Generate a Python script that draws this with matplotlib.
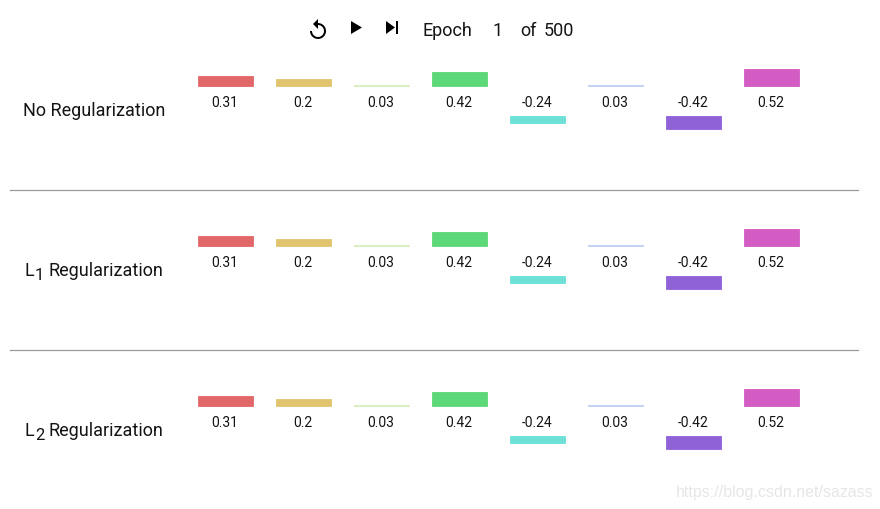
import matplotlib
matplotlib.use("Agg")
import matplotlib.pyplot as plt
from matplotlib.patches import Wedge, Polygon, Rectangle
from matplotlib.lines import Line2D

plt.rcParams['font.family'] = ['Roboto', 'DejaVu Sans']

# ---- data ----
row_prefix = ["", "L", "L"]
row_sub = ["", "1", "2"]
row_main = ["No Regularization", "Regularization", "Regularization"]
no_reg = [0.31, 0.2, 0.03, 0.42, -0.24, 0.03, -0.42, 0.52]
l1_reg = [0.31, 0.2, 0.03, 0.42, -0.24, 0.03, -0.42, 0.52]
l2_reg = [0.31, 0.2, 0.03, 0.42, -0.24, 0.03, -0.42, 0.52]
bar_colors = ["#e06868", "#e2c46e", "#d6efbe", "#5dd879", "#6de0d7", "#bccff2", "#9062d8", "#d35cc4"]
epoch = 1
total_epochs = 500

W, H = 880, 510
fig = plt.figure(figsize=(W / 100, H / 100), dpi=100)
fig.patch.set_facecolor("white")

over = fig.add_axes([0, 0, 1, 1])
over.set_xlim(0, W)
over.set_ylim(H, 0)
over.axis("off")

txt_color = "#141414"
px_per_unit = 32.0
gap = 30 / px_per_unit

rows = [no_reg, l1_reg, l2_reg]
for r, vals in enumerate(rows):
    B = 86.5 + 160 * r
    ax = fig.add_axes([186 / W, (H - (B + 60)) / H, 624 / W, 100 / H])
    ax.set_xlim(-0.5, len(vals) - 0.5)
    ax.set_ylim(-60 / px_per_unit, 40 / px_per_unit)
    ax.axis("off")
    xs = list(range(len(vals)))
    bottoms = [0 if v >= 0 else -gap for v in vals]
    ax.bar(xs, vals, bottom=bottoms, width=55 / 78, color=bar_colors,
           edgecolor=bar_colors, linewidth=0.6)
    for x, v in zip(xs, vals):
        ax.text(x, -20.5 / px_per_unit, f"{v:g}", ha="center", va="baseline",
                fontsize=10, color=txt_color)
    base = B + 30
    if row_prefix[r]:
        over.text(25, base, row_prefix[r], ha="left", va="baseline", fontsize=13, color=txt_color)
        over.text(35, base + 3.3, row_sub[r], ha="left", va="baseline", fontsize=12, color=txt_color)
        over.text(48, base, row_main[r], ha="left", va="baseline", fontsize=13, color=txt_color)
    else:
        over.text(23, base, row_main[r], ha="left", va="baseline", fontsize=13, color=txt_color)
    if r < 2:
        over.add_line(Line2D([10, 858], [B + 104, B + 104], color="#9a9a9a", lw=0.9))

# ---- header ----
# replay icon (ring + arrow head)
cx, cy, s = 306, 19, 1.0
over.add_patch(Wedge((cx + 12 * s, cy + 13 * s), 8 * s, -90, 180, width=2 * s,
                     facecolor="black", edgecolor="none"))
over.add_patch(Polygon([(cx + 12 * s, cy + 1 * s), (cx + 7 * s, cy + 6 * s), (cx + 12 * s, cy + 11 * s)],
                       closed=True, facecolor="black", edgecolor="none"))
# play icon
over.add_patch(Polygon([(351, 22), (362, 28.5), (351, 35)], closed=True, facecolor="black"))
# skip icon
over.add_patch(Polygon([(386, 22), (395, 28.5), (386, 35)], closed=True, facecolor="black"))
over.add_patch(Rectangle((395.5, 22), 2.6, 13, facecolor="black"))

over.text(423, 35.5, "Epoch", fontsize=13, color=txt_color, va="baseline")
over.text(497.5, 35.5, f"{epoch}", fontsize=13, color=txt_color, va="baseline", ha="center")
over.text(520, 35.5, "of", fontsize=13, color=txt_color, va="baseline")
over.text(544, 35.5, f"{total_epochs}", fontsize=13, color=txt_color, va="baseline")

# watermark
over.text(676, 497, "https://blog.csdn.net/sazass", fontsize=11.5, color="#e6e6e6",
          va="baseline", family="Liberation Sans")

fig.savefig("out.png", dpi=100, facecolor="white")
